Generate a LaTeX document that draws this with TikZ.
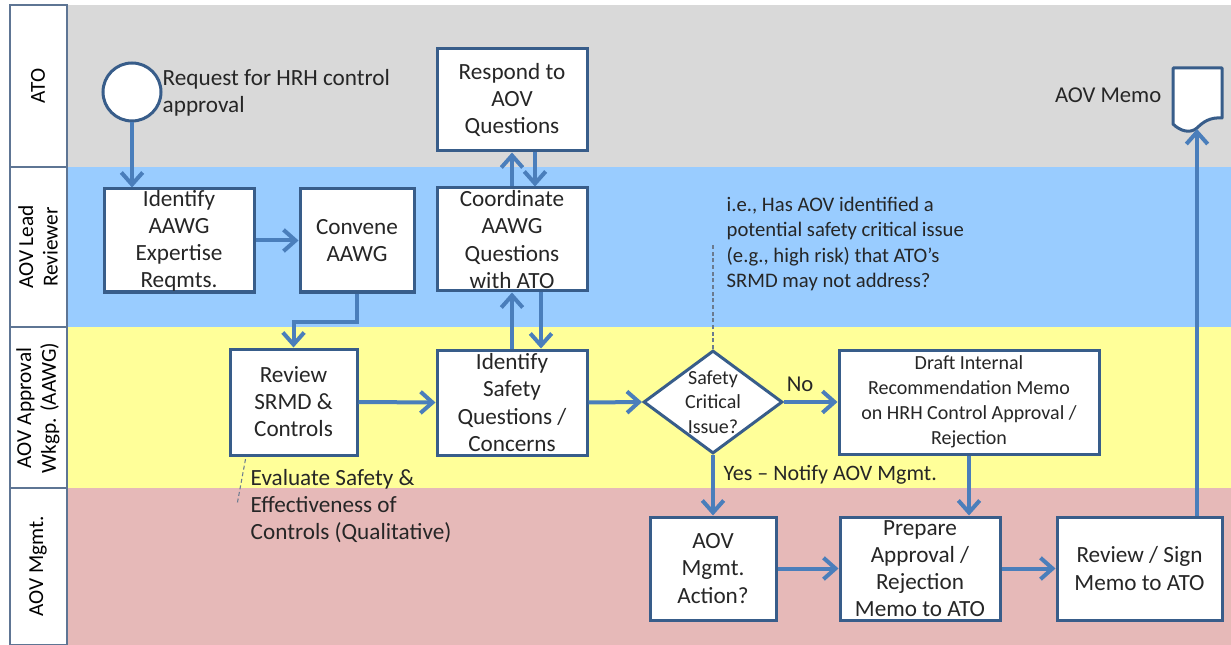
\documentclass[tikz,border=0pt]{standalone}
\usepackage{fontspec}
\setmainfont{Carlito}
\usetikzlibrary{arrows.meta,shapes.geometric,calc}
\definecolor{laneGray}{HTML}{D9D9D9}
\definecolor{laneBlue}{HTML}{99CCFF}
\definecolor{laneYellow}{HTML}{FFFF99}
\definecolor{lanePink}{HTML}{E6B9B8}
\definecolor{boxLine}{HTML}{385D8A}
\definecolor{arrowBlue}{HTML}{4A7EBB}
\definecolor{txt}{HTML}{262626}
\definecolor{laneLine}{HTML}{5E7594}
\definecolor{dashc}{HTML}{6B7B90}
\begin{document}
\begin{tikzpicture}[x=0.75pt,y=-0.75pt,
  every node/.style={text=txt},
  box/.style={draw=boxLine, line width=2.25pt, fill=white, inner sep=0pt, align=center,
    font=\fontsize{17.4}{20.3}\selectfont},
  smallbox/.style={box, font=\fontsize{15}{18.8}\selectfont},
  startc/.style={circle, draw=boxLine, line width=2.25pt, fill=white, inner sep=0pt, minimum size=43.5pt},
  dia/.style={diamond, draw=boxLine, line width=2.25pt, fill=white, inner sep=0pt, minimum width=104.25pt, minimum height=77.25pt},
  flow/.style={draw=arrowBlue, line width=3pt, -{Straight Barb[length=9pt,width=16pt]}},
  cell/.style={draw=laneLine, line width=1pt, fill=white},
  lanelab/.style={rotate=90, align=center, font=\fontsize{16}{18.5}\selectfont, text=black},
  freetext/.style={align=left, font=\fontsize{17.4}{20.3}\selectfont},
  notetext/.style={align=left, font=\fontsize{15.5}{19.1}\selectfont},
  callout/.style={draw=dashc, line width=0.8pt, dash pattern=on 3pt off 2pt}
]
\useasboundingbox (0,0) rectangle (1231,645);
% lanes
\fill[laneGray]   (67,5)   rectangle (1231,167);
\fill[laneBlue]   (67,167) rectangle (1231,327);
\fill[laneYellow] (67,327) rectangle (1231,488);
\fill[lanePink]   (67,488) rectangle (1231,645);
\draw[cell] (10,5)   rectangle (67,167);
\draw[cell] (10,167) rectangle (67,327);
\draw[cell] (10,327) rectangle (67,488);
\draw[cell] (10,488) rectangle (67,645);
\node[lanelab] (lATO)  at (38,86)  {ATO};
\node[lanelab] (lLead) at (38,247) {AOV Lead\\Reviewer};
\node[lanelab] (lAAWG) at (38,408) {AOV Approval\\Wkgp. (AAWG)};
\node[lanelab] (lMgmt) at (38,566) {AOV Mgmt.};

% nodes
\node[startc] (start) at (132,92) {};
\node[freetext, anchor=west] (reqtxt) at (158,93) {Request for HRH control\\approval};
\node[box, minimum width=112.5pt, minimum height=77.25pt] (idaawg) at (179,240.5) {Identify\\AAWG\\Expertise\\Reqmts.};
\node[box, minimum width=85.5pt, minimum height=77.25pt] (convene) at (357,240.5) {Convene\\AAWG};
\node[box, minimum width=112.5pt, minimum height=76.5pt] (respond) at (512,100) {Respond to\\AOV\\Questions};
\node[box, minimum width=112.5pt, minimum height=77.25pt] (coord) at (512,239.5) {Coordinate\\AAWG\\Questions\\with ATO};
\node[box, minimum width=95.25pt, minimum height=79.5pt] (review) at (293.5,402) {Review\\SRMD \&\\Controls};
\node[box, minimum width=112.5pt, minimum height=78.75pt] (idsafe) at (512,402.5) {Identify\\Safety\\Questions /\\Concerns};
\node[dia, label={[align=center, font=\fontsize{15}{18.4}\selectfont, text=txt]center:Safety\\Critical\\Issue?}] (crit) at (713,402) {};
\node[smallbox, minimum width=195pt, minimum height=78pt] (draft) at (969,402) {Draft Internal\\Recommendation Memo\\on HRH Control Approval /\\Rejection};
\node[box, minimum width=94.5pt, minimum height=77.25pt] (mgmtact) at (713,568.5) {AOV\\Mgmt.\\Action?};
\node[box, minimum width=120pt, minimum height=77.25pt] (prepare) at (920,568.5) {Prepare\\Approval /\\Rejection\\Memo to ATO};
\node[box, minimum width=123.75pt, minimum height=77.25pt] (signrev) at (1139.5,568.5) {Review / Sign\\Memo to ATO};

% memo document
\draw[boxLine, line width=2.25pt, fill=white, line join=round]
  (1173,68) -- (1222,68) -- (1222,118)
  .. controls (1210,117) and (1203,122) .. (1197,128)
  .. controls (1190,134) and (1180,131) .. (1173,124) -- cycle;
\coordinate (memoB) at (1197,129);
\node[freetext, anchor=east, font=\fontsize{17}{20}\selectfont] (memotxt) at (1166,95) {AOV Memo};

% notes
\node[notetext, anchor=west] (note) at (722,244) {i.e., Has AOV identified a\\potential safety critical issue\\(e.g., high risk) that ATO’s\\SRMD may not address?};
\coordinate (noteEnd) at (713,243);
\draw[callout] (crit.north) -- (noteEnd);
\node[freetext, anchor=west] (evaltxt) at (246,506) {Evaluate Safety \&\\Effectiveness of\\Controls (Qualitative)};
\coordinate (evalEnd) at (237,505);
\draw[callout] ([xshift=-36pt,yshift=-2pt]review.south) -- (evalEnd);

% connectors
\draw[flow] (start.south) -- (start.south |- idaawg.north);
\draw[flow] (idaawg.east) -- (convene.west);
\draw[flow] (convene.south) -- ++(0,28) -| (review.north);
\draw[flow] (review.east) -- (idsafe.west);
\draw[flow] (idsafe.north) -- (coord.south);
\draw[flow] ([xshift=21.75pt]coord.south) -- ([xshift=21.75pt]idsafe.north);
\draw[flow] (coord.north) -- (respond.south);
\draw[flow] ([xshift=17.25pt]respond.south) -- ([xshift=17.25pt]coord.north);
\draw[flow] (idsafe.east) -- (crit.west);
\draw[flow] (crit.east) -- node[above, pos=0.3, font=\fontsize{17}{20}\selectfont, inner sep=6pt] (nolab) {No} (draft.west);
\draw[flow] (crit.south) -- (mgmtact.north);
\node[freetext, anchor=west, font=\fontsize{16.5}{20}\selectfont] (yeslab) at (719,475) {Yes – Notify AOV Mgmt.};
\draw[flow] (draft.south) -- (draft.south |- prepare.north);
\draw[flow] (mgmtact.east) -- (prepare.west);
\draw[flow] (prepare.east) -- (signrev.west);
\draw[flow] (signrev.north -| memoB) -- (memoB);
\end{tikzpicture}
\end{document}
